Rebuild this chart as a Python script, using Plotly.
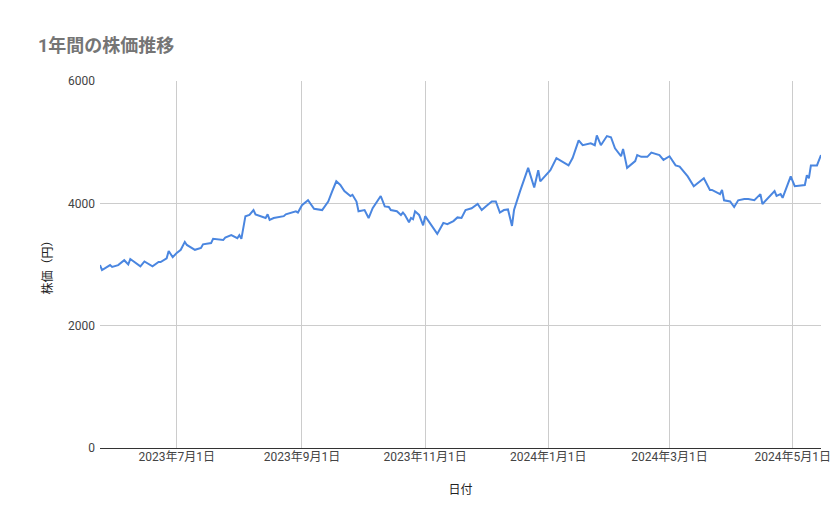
import datetime as dt
import plotly.graph_objects as go

start = dt.date(2023, 5, 24)
day_offsets = [0,1,5,6,9,12,14,15,20,22,26,29,30,33,34,36,38,40,42,43,47,50,51,55,56,61,62,65,68,69,70,72,74,76,77,82,83,84,86,91,92,97,98,100,103,106,110,113,115,117,119,121,124,125,127,128,131,133,135,139,141,143,144,147,149,150,151,153,154,155,156,158,160,161,167,170,172,175,177,179,181,184,187,189,191,194,196,198,200,202,204,205,208,212,215,217,218,223,226,232,234,237,239,243,245,246,248,251,253,255,258,259,261,265,266,268,271,273,277,279,282,285,287,291,294,296,299,302,303,307,308,309,312,314,316,319,321,324,327,328,332,334,335,337,338,342,344,349,350,351,352,355,357]
prices = [2990,2910,2990,2960,2990,3070,3000,3090,2970,3050,2970,3040,3040,3100,3220,3120,3190,3240,3370,3320,3240,3270,3330,3350,3420,3400,3440,3480,3430,3480,3420,3790,3810,3890,3820,3760,3820,3730,3760,3790,3820,3870,3850,3970,4050,3910,3890,4030,4200,4360,4300,4200,4120,4140,4030,3870,3890,3760,3920,4120,3950,3940,3890,3870,3810,3850,3810,3690,3760,3740,3870,3810,3640,3790,3500,3680,3660,3710,3770,3760,3890,3920,3990,3890,3950,4030,4030,3850,3890,3900,3630,3890,4200,4580,4260,4540,4360,4540,4740,4620,4740,5030,4950,4980,4950,5110,4950,5100,5080,4900,4770,4890,4580,4690,4790,4760,4760,4830,4790,4710,4770,4620,4600,4440,4280,4330,4410,4220,4220,4150,4220,4050,4030,3940,4050,4070,4070,4050,4150,3990,4130,4200,4120,4150,4090,4440,4280,4300,4460,4410,4620,4620,4790]
dates = [start + dt.timedelta(days=d) for d in day_offsets]

tick_vals = [dt.date(2023,7,1), dt.date(2023,9,1), dt.date(2023,11,1), dt.date(2024,1,1), dt.date(2024,3,1), dt.date(2024,5,1)]
tick_text = ["2023年7月1日","2023年9月1日","2023年11月1日","2024年1月1日","2024年3月1日","2024年5月1日"]

font = "Roboto, 'Noto Sans CJK JP', sans-serif"
fig = go.Figure(go.Scatter(x=dates, y=prices, mode="lines", line=dict(color="#4a86e0", width=2)))
fig.update_layout(
    width=839, height=519, plot_bgcolor="white", paper_bgcolor="white",
    margin=dict(l=92, r=26, t=73, b=79, autoexpand=False),
    font=dict(family=font, size=12, color="#222"),
    title=dict(text="<b>1年間の株価推移</b>", x=30/839, xref="container", xanchor="left", y=1-38/519, yanchor="middle",
               font=dict(size=18, color="#757575", family=font)),
    showlegend=False,
)
fig.update_xaxes(range=[start, start + dt.timedelta(days=357)], tickvals=tick_vals, ticktext=tick_text,
                 showgrid=True, gridcolor="#cccccc", showline=False, zeroline=False, automargin=False,
                 title=dict(text="日付", font=dict(size=12), standoff=22), tickfont=dict(size=12, color="#444"))
fig.update_yaxes(range=[0, 6000], tickvals=[0,2000,4000,6000], showgrid=True, gridcolor="#cccccc",
                 zeroline=True, zerolinecolor="#333", zerolinewidth=1, automargin=False,
                 title=dict(text="株価（円）", font=dict(size=12), standoff=12), tickfont=dict(size=12, color="#444"),
                 ticklabelstandoff=4)
fig.write_html("out.html")
